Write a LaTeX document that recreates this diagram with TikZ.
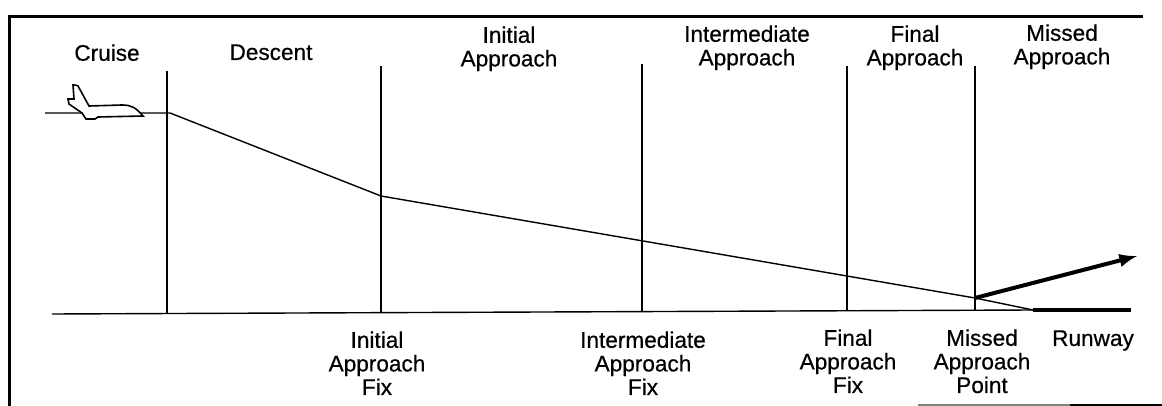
\documentclass[tikz,border=0pt]{standalone}
\usepackage{fontspec}
\setmainfont{Liberation Sans}[FakeBold=0.5]
\tikzset{
  fixline/.style={line width=.7pt},
  heavyline/.style={line width=2pt},
  txt/.style={align=center, inner sep=0pt, font=\fontsize{11.3}{11.8}\selectfont, anchor=north}
}
\begin{document}
\begin{tikzpicture}[x=.5pt, y=-.5pt]
  \useasboundingbox (0,0) rectangle (1162,406);
  % frame
  \coordinate (bl) at (9,406);
  \coordinate (tl) at (9,17);
  \coordinate (tr) at (1143,17);
  \draw[line width=1.5pt] (bl) -- (tl) -- (tr);
  \coordinate (bm) at (918,405);
  \coordinate (bn) at (1070,405);
  \coordinate (br) at (1162,405);
  \draw[fixline, gray] (bm) -- (bn);
  \draw[fixline] (bn) -- (br);
  % phase boundaries
  \coordinate (cruisetop) at (167,71);
  \coordinate (cruisebot) at (167,314);
  \coordinate (iaftop) at (381,66);
  \coordinate (iafbot) at (381,313);
  \coordinate (inttop) at (642,64);
  \coordinate (intbot) at (642,312);
  \coordinate (faftop) at (847,66);
  \coordinate (fafbot) at (847,311);
  \coordinate (maptop) at (975,66);
  \coordinate (mapbot) at (975,310);
  \draw[fixline] (cruisetop) -- (cruisebot);
  \draw[fixline] (iaftop) -- (iafbot);
  \draw[fixline] (inttop) -- (intbot);
  \draw[fixline] (faftop) -- (fafbot);
  \draw[fixline] (maptop) -- (mapbot);
  % ground and runway
  \coordinate (gnd) at (52,314);
  \coordinate (rwya) at (1033,310);
  \coordinate (rwyb) at (1131,310);
  \draw[fixline] (gnd) -- (rwya);
  \draw[heavyline] (rwya) -- (rwyb);
  % flight path
  \coordinate (start) at (45,113);
  \coordinate (tod) at (170,113);
  \coordinate (iaf) at (381,196);
  \coordinate (map) at (975,298);
  \draw[fixline] (start) -- (tod) -- (iaf) -- (map) -- (rwya);
  % missed approach
  \coordinate (miss) at (1137,256);
  \draw[-latex, heavyline] (map) -- (miss);
  % aircraft
  \draw[fill=white, line width=.8pt] (143,116) .. controls (136,108) and (132,105) .. (122,105) -- (89,106)
    -- (78,86) .. controls (77,85) and (75,85) .. (73,85) -- (74,99) -- (68,99) -- (69,104)
    -- (82,113) -- (86,119) -- (95,119) -- (98,117) -- cycle;
  % phase labels
  \node[txt] (cruise) at (107,44) {Cruise};
  \node[txt] (descent) at (271,44) {Descent};
  \node[txt] (initial) at (509,26) {Initial\\Approach};
  \node[txt] (intermediate) at (747,25) {Intermediate\\Approach};
  \node[txt] (final) at (915,25) {Final\\Approach};
  \node[txt] (missed) at (1062,24) {Missed\\Approach};
  % fix labels
  \node[txt] (iaflabel) at (377,331) {Initial\\Approach\\Fix};
  \node[txt] (intlabel) at (643,331) {Intermediate\\Approach\\Fix};
  \node[txt] (faflabel) at (848,329) {Final\\Approach\\Fix};
  \node[txt] (maplabel) at (982,329) {Missed\\Approach\\Point};
  \node[txt] (runway) at (1093,330) {Runway};
\end{tikzpicture}
\end{document}
